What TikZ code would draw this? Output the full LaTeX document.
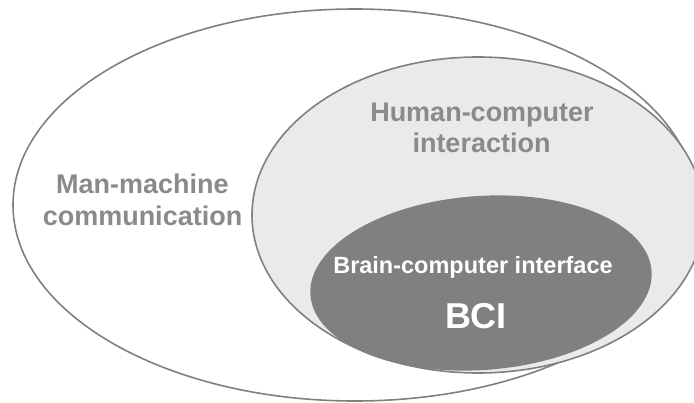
\documentclass[tikz,border=0pt]{standalone}
\usepackage{fontspec}
\setmainfont{Liberation Sans}
\definecolor{rimgray}{HTML}{808080}
\definecolor{hcigray}{HTML}{EAEAEA}
\definecolor{bcigray}{HTML}{808080}
\definecolor{labelgray}{HTML}{8A8A8A}

\begin{document}
\begin{tikzpicture}[scale=0.3515]
\tikzstyle{every node}+=[inner sep=0pt]
\tikzstyle{rim}=[draw=rimgray, line width=1.6pt]
\tikzstyle{greylabel}=[text=labelgray, anchor=base, font=\fontsize{27}{32}\selectfont\bfseries]
\tikzstyle{whitelabel}=[text=white, anchor=base, font=\fontsize{23.5}{28}\selectfont\bfseries]
\useasboundingbox (0,0) rectangle (69.4,-40.3);
\clip (0,0) rectangle (69.4,-40.3);
\draw [rim, fill=white] (35.5,-20.5) ellipse (34.2 and 19.6);
\draw [rim, fill=hcigray] (47.8,-21.5) ellipse (22.6 and 15.8);
\fill [bcigray, rotate around={4:(48.1,-28.3)}] (48.1,-28.3) ellipse (17.1 and 8.7);
\node [greylabel] (mmc1) at (14.25,-19.3) {Man-machine};
\node [greylabel] (mmc2) at (14.25,-22.5) {communication};
\node [greylabel] (hci1) at (48.2,-12.2) {Human-computer};
\node [greylabel] (hci2) at (48.15,-15.3) {interaction};
\node [whitelabel] (bci1) at (47.3,-27.3) {Brain-computer interface};
\node [whitelabel, font=\fontsize{36}{40}\selectfont\bfseries] (bci2) at (47.6,-32.8) {BCI};
\end{tikzpicture}
\end{document}
